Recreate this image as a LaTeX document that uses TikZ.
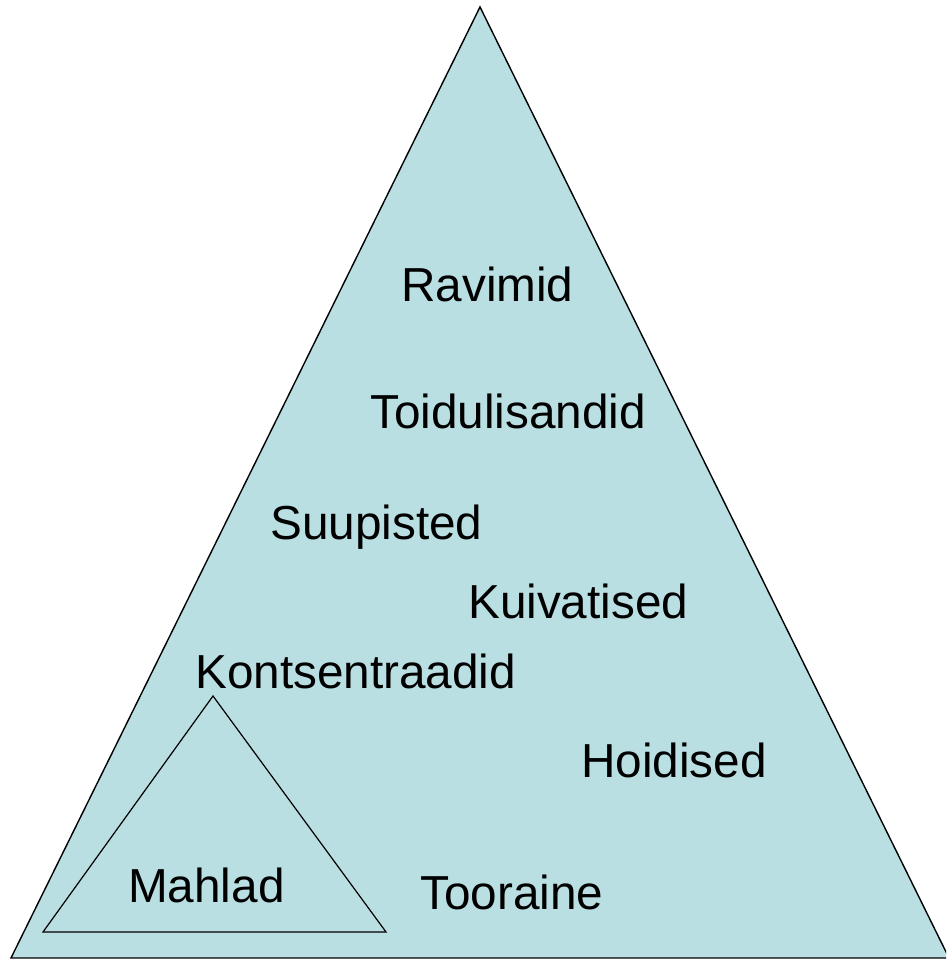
\documentclass[tikz,border=0pt]{standalone}
\usepackage{fontspec}
\setmainfont{Liberation Sans}
\definecolor{pyrfill}{HTML}{B9DFE3}
\begin{document}
\begin{tikzpicture}[x=1pt,y=1pt,
  lbl/.style={anchor=base west,inner sep=0pt,font=\fontsize{47.7}{57}\selectfont},
  tri/.style={draw=black,line width=1.4pt,line join=miter}]
\useasboundingbox (0,0) rectangle (946,960);
\clip (0,0) rectangle (946,960);
\coordinate (apex) at (480,953);
\coordinate (bl) at (11,2);
\coordinate (br) at (949,2);
\filldraw[tri,fill=pyrfill] (apex) -- (bl) -- (br) -- cycle;
\coordinate (iapex) at (213,264);
\coordinate (ibl) at (43,28);
\coordinate (ibr) at (386,28);
\draw[tri,line width=1.2pt] (iapex) -- (ibl) -- (ibr) -- cycle;
\node[lbl] (ravimid) at (401,658) {Ravimid};
\node[lbl] (toidul) at (370,531) {Toidulisandid};
\node[lbl] (suup) at (270,420) {Suupisted};
\node[lbl] (kuiv) at (468,341) {Kuivatised};
\node[lbl] (konts) at (195,271) {Kontsentraadid};
\node[lbl] (hoid) at (581,182) {Hoidised};
\node[lbl] (toor) at (420,50) {Tooraine};
\node[lbl] (mahlad) at (128,57) {Mahlad};
\end{tikzpicture}
\end{document}
